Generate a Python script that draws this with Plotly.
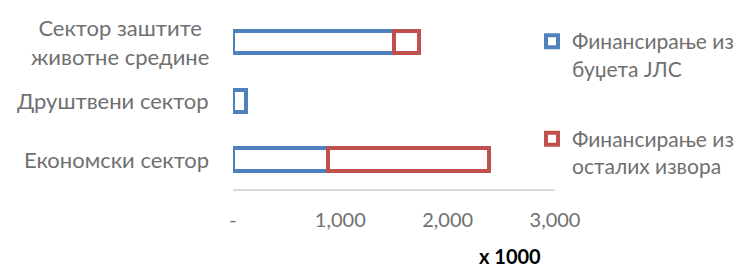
import plotly.graph_objects as go

categories = ["Економски сектор", "Друштвени сектор", "Сектор заштите<br>животне средине"]
budget_jls = [885, 120, 1500]
other_sources = [1500, None, 233]
series_names = ["Финансирање из<br>буџета ЈЛС", "Финансирање из<br>осталих извора"]
tick_vals = [0, 1000, 2000, 3000]
tick_text = ["-", "1,000", "2,000", "3,000"]

FONT = "Lato"
GRAY = "#707070"
BLUE = "#4F81BD"
RED = "#C0504D"

# page body has an 8px default margin; figure sized to fit the 748x267 window
W, H = 740, 259

fig = go.Figure()
fig.add_trace(go.Bar(
    y=categories, x=budget_jls, orientation="h", name=series_names[0],
    marker=dict(color="white", line=dict(color=BLUE, width=4)),
    legendgroup="a",
))
fig.add_trace(go.Bar(
    y=categories, x=other_sources, orientation="h", name=series_names[1],
    marker=dict(color="white", line=dict(color=RED, width=4)),
    legendgroup="b",
))

annotations = []
for c in categories:
    annotations.append(dict(
        x=0, xref="paper", y=c, yref="y", text=c, showarrow=False,
        xanchor="right", xshift=-22, align="center",
        font=dict(family=FONT, size=22, color=GRAY),
    ))
annotations.append(dict(
    x=0.86, xref="paper", y=-0.379, yref="paper", text="<b>x 1000</b>",
    showarrow=False, xanchor="center", yanchor="middle",
    font=dict(family=FONT, size=20, color="black"),
))

fig.update_layout(
    width=W, height=H,
    margin=dict(l=225, r=193, t=4, b=78, autoexpand=False),
    barmode="stack", bargap=0.62,
    plot_bgcolor="white", paper_bgcolor="white",
    font=dict(family=FONT, size=20, color=GRAY),
    xaxis=dict(
        range=[0, 3000], tickvals=tick_vals, ticktext=tick_text,
        showgrid=False, zeroline=False, showline=True, linecolor="#d9d9d9", linewidth=2,
        ticks="outside", ticklen=12, tickcolor="rgba(0,0,0,0)",
        tickfont=dict(family=FONT, size=20, color=GRAY),
        automargin=False,
    ),
    yaxis=dict(showticklabels=False, showgrid=False, zeroline=False, showline=False,
               automargin=False),
    showlegend=True,
    legend=dict(
        xref="container", x=524/W, xanchor="left",
        yref="container", y=1 - 13/H, yanchor="top",
        traceorder="grouped", tracegroupgap=40,
        font=dict(family=FONT, size=21, color=GRAY),
        bgcolor="rgba(0,0,0,0)", itemwidth=30, valign="top",
        maxheight=240,
    ),
    annotations=annotations,
)

fig.write_html("out.html")
